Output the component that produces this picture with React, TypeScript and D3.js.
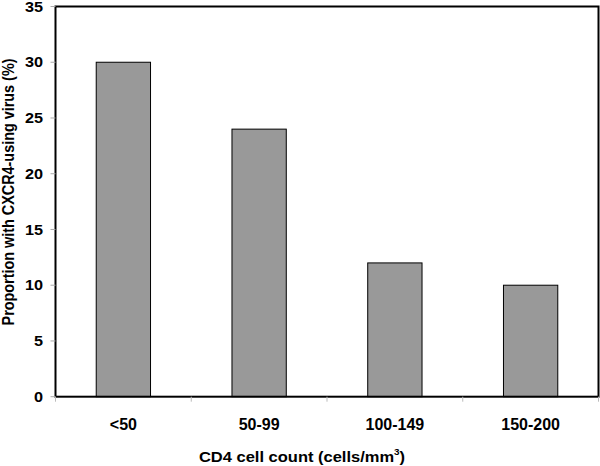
import React from "react";
import * as d3 from "d3";

const categories = ["<50", "50-99", "100-149", "150-200"];
const values = [30, 24, 12, 10];
const yTicks = [0, 5, 10, 15, 20, 25, 30, 35];

export default function App() {
  const W = 600, H = 466;
  const left = 55.5, right = 598.5, top = 6.5, bottom = 396.7;
  const x = d3.scaleBand<string>().domain(categories).range([left, right]).padding(0);
  const y = d3.scaleLinear().domain([0, 35]).range([bottom, top]);
  const bw = x.bandwidth() * 0.4;
  const font = "'Liberation Sans', Arial, sans-serif";
  const sx = 1.16;
  const boundaries = categories.map((c) => x(c)!).concat([right]);
  return (
    <svg width={W} height={H} style={{ position: "absolute", left: 0, top: 0, background: "#fff" }}>
      <rect x={0} y={0} width={W} height={H} fill="#fff" />
      {values.map((v, i) => {
        const c = categories[i];
        const cx = x(c)! + x.bandwidth() / 2;
        return (
          <rect key={c} x={cx - bw / 2} y={y(v)} width={bw} height={bottom - y(v)} fill="#999999" stroke="#000" strokeWidth={1} />
        );
      })}
      <rect x={left} y={top} width={right - left} height={bottom - top} fill="none" stroke="#000" strokeWidth={2} />
      {yTicks.map((t) => (
        <g key={t}>
          <line x1={left - 5} x2={left} y1={y(t)} y2={y(t)} stroke="#aaa" strokeWidth={1} />
          <text transform={`translate(43,${y(t)}) scale(${sx},1)`} dy="0.36em" textAnchor="end" fontFamily={font} fontWeight="bold" fontSize={14} fill="#000">{t}</text>
        </g>
      ))}
      {boundaries.map((b, i) => (
        <line key={i} x1={b} x2={b} y1={bottom} y2={bottom + 5} stroke="#bbb" strokeWidth={1} />
      ))}
      {categories.map((c) => (
        <text key={c} x={x(c)! + x.bandwidth() / 2} y={430} textAnchor="middle" fontFamily={font} fontWeight="bold" fontSize={16} fill="#000">{c}</text>
      ))}
      <text transform={`translate(302,462) scale(1.1,1)`} textAnchor="middle" fontFamily={font} fontWeight="bold" fontSize={15} fill="#000">
        CD4 cell count (cells/mm<tspan dy={-7} fontSize={9}>3</tspan><tspan dy={7}>)</tspan>
      </text>
      <text transform={`translate(14,192) scale(${sx},1) rotate(-90)`} textAnchor="middle" fontFamily={font} fontWeight="bold" fontSize={14.4} fill="#000">
        Proportion with CXCR4-using virus (%)
      </text>
    </svg>
  );
}
